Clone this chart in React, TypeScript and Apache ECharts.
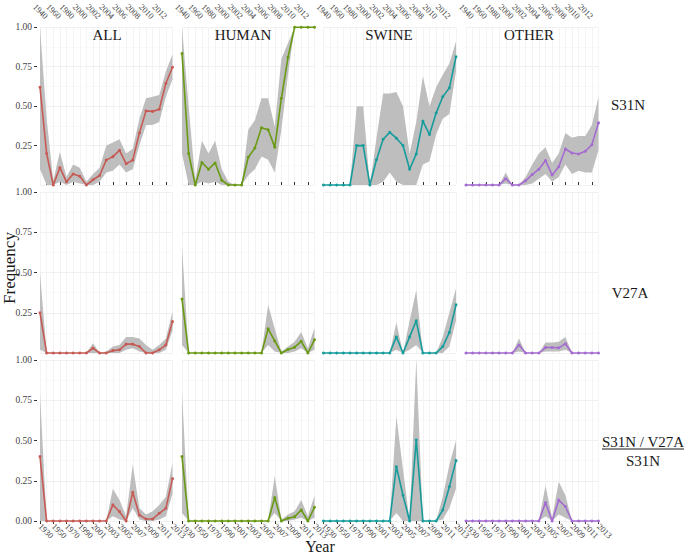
import React, { useEffect, useRef } from 'react';
import * as echarts from 'echarts';

const years = ['1930','1940','1950','1960','1970','1980','1990','2000','2001','2002','2003','2004','2005','2006','2007','2008','2009','2010','2011','2012','2013'];
const hosts = ['ALL', 'HUMAN', 'SWINE', 'OTHER'];
const hostColors = ['#c65b55', '#6a9a14', '#179c9c', '#a46bd1'];
const rowLabels = ['S31N', 'V27A', 'S31N / V27A'];

// Row 1: S31N
const allS31N   = [0.62,0.20,0.0,0.11,0.02,0.07,0.055,0.0,0.033,0.06,0.158,0.18,0.22,0.135,0.158,0.33,0.47,0.467,0.48,0.645,0.747];
const allS31NLo = [0.10,0.0,0.0,0.02,0.0,0.02,0.01,0.0,0.0,0.02,0.08,0.09,0.13,0.08,0.10,0.25,0.38,0.38,0.40,0.56,0.67];
const allS31NHi = [1.0,0.42,0.03,0.21,0.05,0.13,0.11,0.02,0.07,0.11,0.25,0.27,0.29,0.20,0.23,0.42,0.55,0.56,0.57,0.72,0.83];
const humS31N   = [0.834,0.20,0.0,0.143,0.10,0.14,0.03,0.0,0.0,0.0,0.176,0.234,0.363,0.35,0.24,0.55,0.81,1,1,1,1];
const humS31NLo = [0.2,0,0,0.02,0.01,0.02,0,0,0,0,0.06,0.10,0.18,0.16,0.08,0.35,0.70,1,1,1,1];
const humS31NHi = [1.0,0.5,0.03,0.28,0.20,0.28,0.10,0.02,0,0,0.35,0.41,0.55,0.55,0.37,0.80,0.90,1,1,1,1];
const swiS31N   = [0,0,0,0,0,0.25,0.25,0,0.16,0.29,0.334,0.297,0.25,0.10,0.197,0.405,0.32,0.456,0.56,0.616,0.813];
const swiS31NLo = [0,0,0,0,0,0,0,0,0,0.02,0.08,0.02,0,0,0,0.13,0.15,0.32,0.42,0.45,0.72];
const swiS31NHi = [0,0,0,0,0,0.5,0.5,0,0.30,0.58,0.58,0.59,0.50,0.20,0.40,0.69,0.50,0.62,0.70,0.77,0.91];
const othS31N   = [0,0,0,0,0,0,0.04,0,0,0.027,0.066,0.10,0.155,0.064,0.116,0.228,0.203,0.197,0.214,0.255,0.394];
const othS31NLo = [0,0,0,0,0,0,0.01,0,0,0,0.01,0.04,0.07,0.02,0.05,0.13,0.07,0.09,0.08,0.08,0.22];
const othS31NHi = [0,0,0,0,0,0,0.08,0,0,0.05,0.13,0.20,0.24,0.14,0.20,0.33,0.30,0.31,0.31,0.38,0.56];

// Row 2: V27A
const allV27A   = [0.25,0,0,0,0,0,0,0,0.03,0,0,0.015,0.02,0.055,0.055,0.04,0,0,0.02,0.05,0.195];
const allV27ALo = [0.02,0,0,0,0,0,0,0,0,0,0,0,0,0.02,0.03,0.01,0,0,0,0.02,0.14];
const allV27AHi = [0.5,0,0,0,0,0,0,0,0.06,0,0.01,0.04,0.05,0.10,0.10,0.09,0.05,0.02,0.05,0.09,0.26];
const humV27A   = [0.335,0,0,0,0,0,0,0,0,0,0,0,0,0.15,0.075,0,0.022,0.036,0.072,0,0.082];
const humV27ALo = [0.05,0,0,0,0,0,0,0,0,0,0,0,0,0.05,0.01,0,0,0.01,0.03,0,0.02];
const humV27AHi = [0.66,0,0,0,0,0,0,0,0,0,0,0,0,0.30,0.15,0.01,0.04,0.07,0.13,0.03,0.155];
const swiV27A   = [0,0,0,0,0,0,0,0,0,0,0,0.10,0,0.10,0.20,0,0,0,0.04,0.128,0.30];
const swiV27ALo = [0,0,0,0,0,0,0,0,0,0,0,0.02,0,0.02,0.05,0,0,0,0,0.04,0.20];
const swiV27AHi = [0,0,0,0,0,0,0,0,0,0,0,0.19,0,0.20,0.39,0,0,0,0.10,0.25,0.40];
const othV27A   = [0,0,0,0,0,0,0,0,0.05,0,0,0,0.034,0.034,0.032,0.057,0,0,0,0,0];
const othV27ALo = [0,0,0,0,0,0,0,0,0.01,0,0,0,0.01,0.01,0.01,0.02,0,0,0,0,0];
const othV27AHi = [0,0,0,0,0,0,0,0,0.09,0,0,0,0.065,0.065,0.07,0.10,0,0,0,0,0];

// Row 3: S31N / V27A over S31N
const allRat   = [0.40,0,0,0,0,0,0,0,0,0,0,0.10,0.058,0,0.178,0.037,0.012,0.012,0.048,0.079,0.263];
const allRatLo = [0,0,0,0,0,0,0,0,0,0,0,0.03,0.01,0,0.08,0.01,0,0,0.01,0.03,0.17];
const allRatHi = [0.79,0,0,0,0,0,0,0,0,0,0,0.20,0.13,0.03,0.35,0.08,0.04,0.06,0.10,0.15,0.36];
const humRat   = [0.40,0,0,0,0,0,0,0,0,0,0,0,0,0,0.145,0,0.017,0.027,0.068,0,0.085];
const humRatLo = [0.05,0,0,0,0,0,0,0,0,0,0,0,0,0,0.05,0,0,0.01,0.02,0,0.02];
const humRatHi = [0.80,0,0,0,0,0,0,0,0,0,0,0,0,0,0.28,0.01,0.04,0.06,0.13,0.03,0.157];
const swiRat   = [0,0,0,0,0,0,0,0,0,0,0,0.337,0.16,0,0.503,0,0,0,0.068,0.213,0.375];
const swiRatLo = [0,0,0,0,0,0,0,0,0,0,0,0.05,0,0,0,0,0,0,0.01,0.08,0.20];
const swiRatHi = [0,0,0,0,0,0,0,0,0,0,0,0.65,0.32,0,1.0,0,0,0,0.15,0.35,0.50];
const othRat   = [0,0,0,0,0,0,0,0,0,0,0,0,0.114,0,0.13,0.09,0,0,0,0,0];
const othRatLo = [0,0,0,0,0,0,0,0,0,0,0,0,0.03,0,0.04,0.02,0,0,0,0,0];
const othRatHi = [0,0,0,0,0,0,0,0,0,0,0,0,0.22,0.02,0.244,0.16,0,0,0,0,0];

const panels = [
  [[allS31N, allS31NLo, allS31NHi], [humS31N, humS31NLo, humS31NHi], [swiS31N, swiS31NLo, swiS31NHi], [othS31N, othS31NLo, othS31NHi]],
  [[allV27A, allV27ALo, allV27AHi], [humV27A, humV27ALo, humV27AHi], [swiV27A, swiV27ALo, swiV27AHi], [othV27A, othV27ALo, othV27AHi]],
  [[allRat, allRatLo, allRatHi], [humRat, humRatLo, humRatHi], [swiRat, swiRatLo, swiRatHi], [othRat, othRatLo, othRatHi]],
];

const FONT = '"Liberation Serif", "Times New Roman", serif';

export default function App() {
  const ref = useRef<HTMLDivElement>(null);
  useEffect(() => {
    if (!ref.current) return;
    const chart = echarts.init(ref.current, undefined, { renderer: 'svg' });
    const colLeft = [40, 182, 323.5, 466];
    const colWidth = 132.5;
    const rowTop = [24, 192, 360];
    const rowHeight = 161;
    const grids: any[] = [];
    const xAxes: any[] = [];
    const yAxes: any[] = [];
    const series: any[] = [];
    for (let r = 0; r < 3; r++) {
      for (let c = 0; c < 4; c++) {
        const k = r * 4 + c;
        grids.push({ left: colLeft[c], top: rowTop[r], width: colWidth, height: rowHeight });
        const showX = r !== 1;
        const pick = (i: number) => (r === 0 ? i % 2 === 1 : i % 2 === 0);
        xAxes.push({
          gridIndex: k,
          type: 'category',
          data: years,
          boundaryGap: false,
          position: r === 0 ? 'top' : 'bottom',
          offset: r === 0 ? 6 : 0,
          axisLine: { show: false },
          axisTick: { show: showX, length: 3, interval: (i: number) => pick(i), lineStyle: { color: '#333' } },
          axisLabel: {
            show: showX, interval: (i: number) => pick(i), rotate: -45, margin: 4,
            fontSize: 8.5, fontFamily: FONT, color: '#444',
          },
          splitLine: { show: true, interval: 0, lineStyle: { color: '#f0f0f0', width: 0.8 } },
        });
        yAxes.push({
          gridIndex: k,
          type: 'value',
          min: 0,
          max: 1,
          interval: 0.25,
          offset: 3,
          axisLine: { show: false },
          axisTick: { show: c === 0, length: 3, lineStyle: { color: '#333' } },
          axisLabel: {
            show: c === 0, margin: 5, fontSize: 9.5, fontFamily: FONT, color: '#444',
            showMinLabel: r === 2,
            formatter: (v: number) => v.toFixed(2),
          },
          splitLine: { show: true, lineStyle: { color: '#ececec', width: 0.8 } },
          minorTick: { show: false, splitNumber: 2 },
          minorSplitLine: { show: true, lineStyle: { color: '#f6f6f6', width: 0.6 } },
        });
        const [mid, lo, hi] = panels[r][c];
        series.push({
          type: 'line', xAxisIndex: k, yAxisIndex: k, data: lo, stack: 'band' + k,
          symbol: 'none', lineStyle: { opacity: 0 }, silent: true, z: 1,
        });
        series.push({
          type: 'line', xAxisIndex: k, yAxisIndex: k,
          data: hi.map((h: number, i: number) => Math.max(0, h - lo[i])), stack: 'band' + k,
          symbol: 'none', lineStyle: { opacity: 0 }, areaStyle: { color: '#bebebe', opacity: 1 },
          silent: true, z: 1,
        });
        series.push({
          type: 'line', xAxisIndex: k, yAxisIndex: k, data: mid, clip: false,
          symbol: 'circle', symbolSize: 3, showSymbol: true,
          itemStyle: { color: hostColors[c] },
          lineStyle: { color: hostColors[c], width: 1.6 }, z: 3,
        });
      }
    }
    const titleX = [107, 243, 389, 529];
    const graphic: any[] = [];
    hosts.forEach((h, c) => {
      graphic.push({
        type: 'text', x: titleX[c], y: 35, z: 10,
        style: { text: h, font: `15px ${FONT}`, fill: '#1a1a1a', textAlign: 'center', textVerticalAlign: 'middle' },
      });
    });
    graphic.push({
      type: 'text', x: 628, y: 105,
      style: { text: rowLabels[0], font: `15px ${FONT}`, fill: '#1a1a1a', textAlign: 'center', textVerticalAlign: 'middle' },
    });
    graphic.push({
      type: 'text', x: 630, y: 293,
      style: { text: rowLabels[1], font: `15px ${FONT}`, fill: '#1a1a1a', textAlign: 'center', textVerticalAlign: 'middle' },
    });
    graphic.push({
      type: 'text', x: 643, y: 442,
      style: { text: rowLabels[2], font: `15px ${FONT}`, fill: '#1a1a1a', textAlign: 'center', textVerticalAlign: 'middle' },
    });
    graphic.push({
      type: 'line', shape: { x1: 602, y1: 449, x2: 684, y2: 449 },
      style: { stroke: '#1a1a1a', lineWidth: 1 },
    });
    graphic.push({
      type: 'text', x: 643, y: 461,
      style: { text: rowLabels[0], font: `15px ${FONT}`, fill: '#1a1a1a', textAlign: 'center', textVerticalAlign: 'middle' },
    });
    graphic.push({
      type: 'text', x: 9, y: 268, rotation: Math.PI / 2,
      style: { text: 'Frequency', font: `17px ${FONT}`, fill: '#1a1a1a', textAlign: 'center', textVerticalAlign: 'middle' },
    });
    graphic.push({
      type: 'text', x: 320, y: 546,
      style: { text: 'Year', font: `16px ${FONT}`, fill: '#1a1a1a', textAlign: 'center', textVerticalAlign: 'middle' },
    });
    chart.setOption({
      animation: false,
      backgroundColor: '#ffffff',
      grid: grids,
      xAxis: xAxes,
      yAxis: yAxes,
      series,
      graphic,
    });
    return () => chart.dispose();
  }, []);
  return <div ref={ref} style={{ position: 'fixed', left: 0, top: 0, width: 685, height: 555 }} />;
}
